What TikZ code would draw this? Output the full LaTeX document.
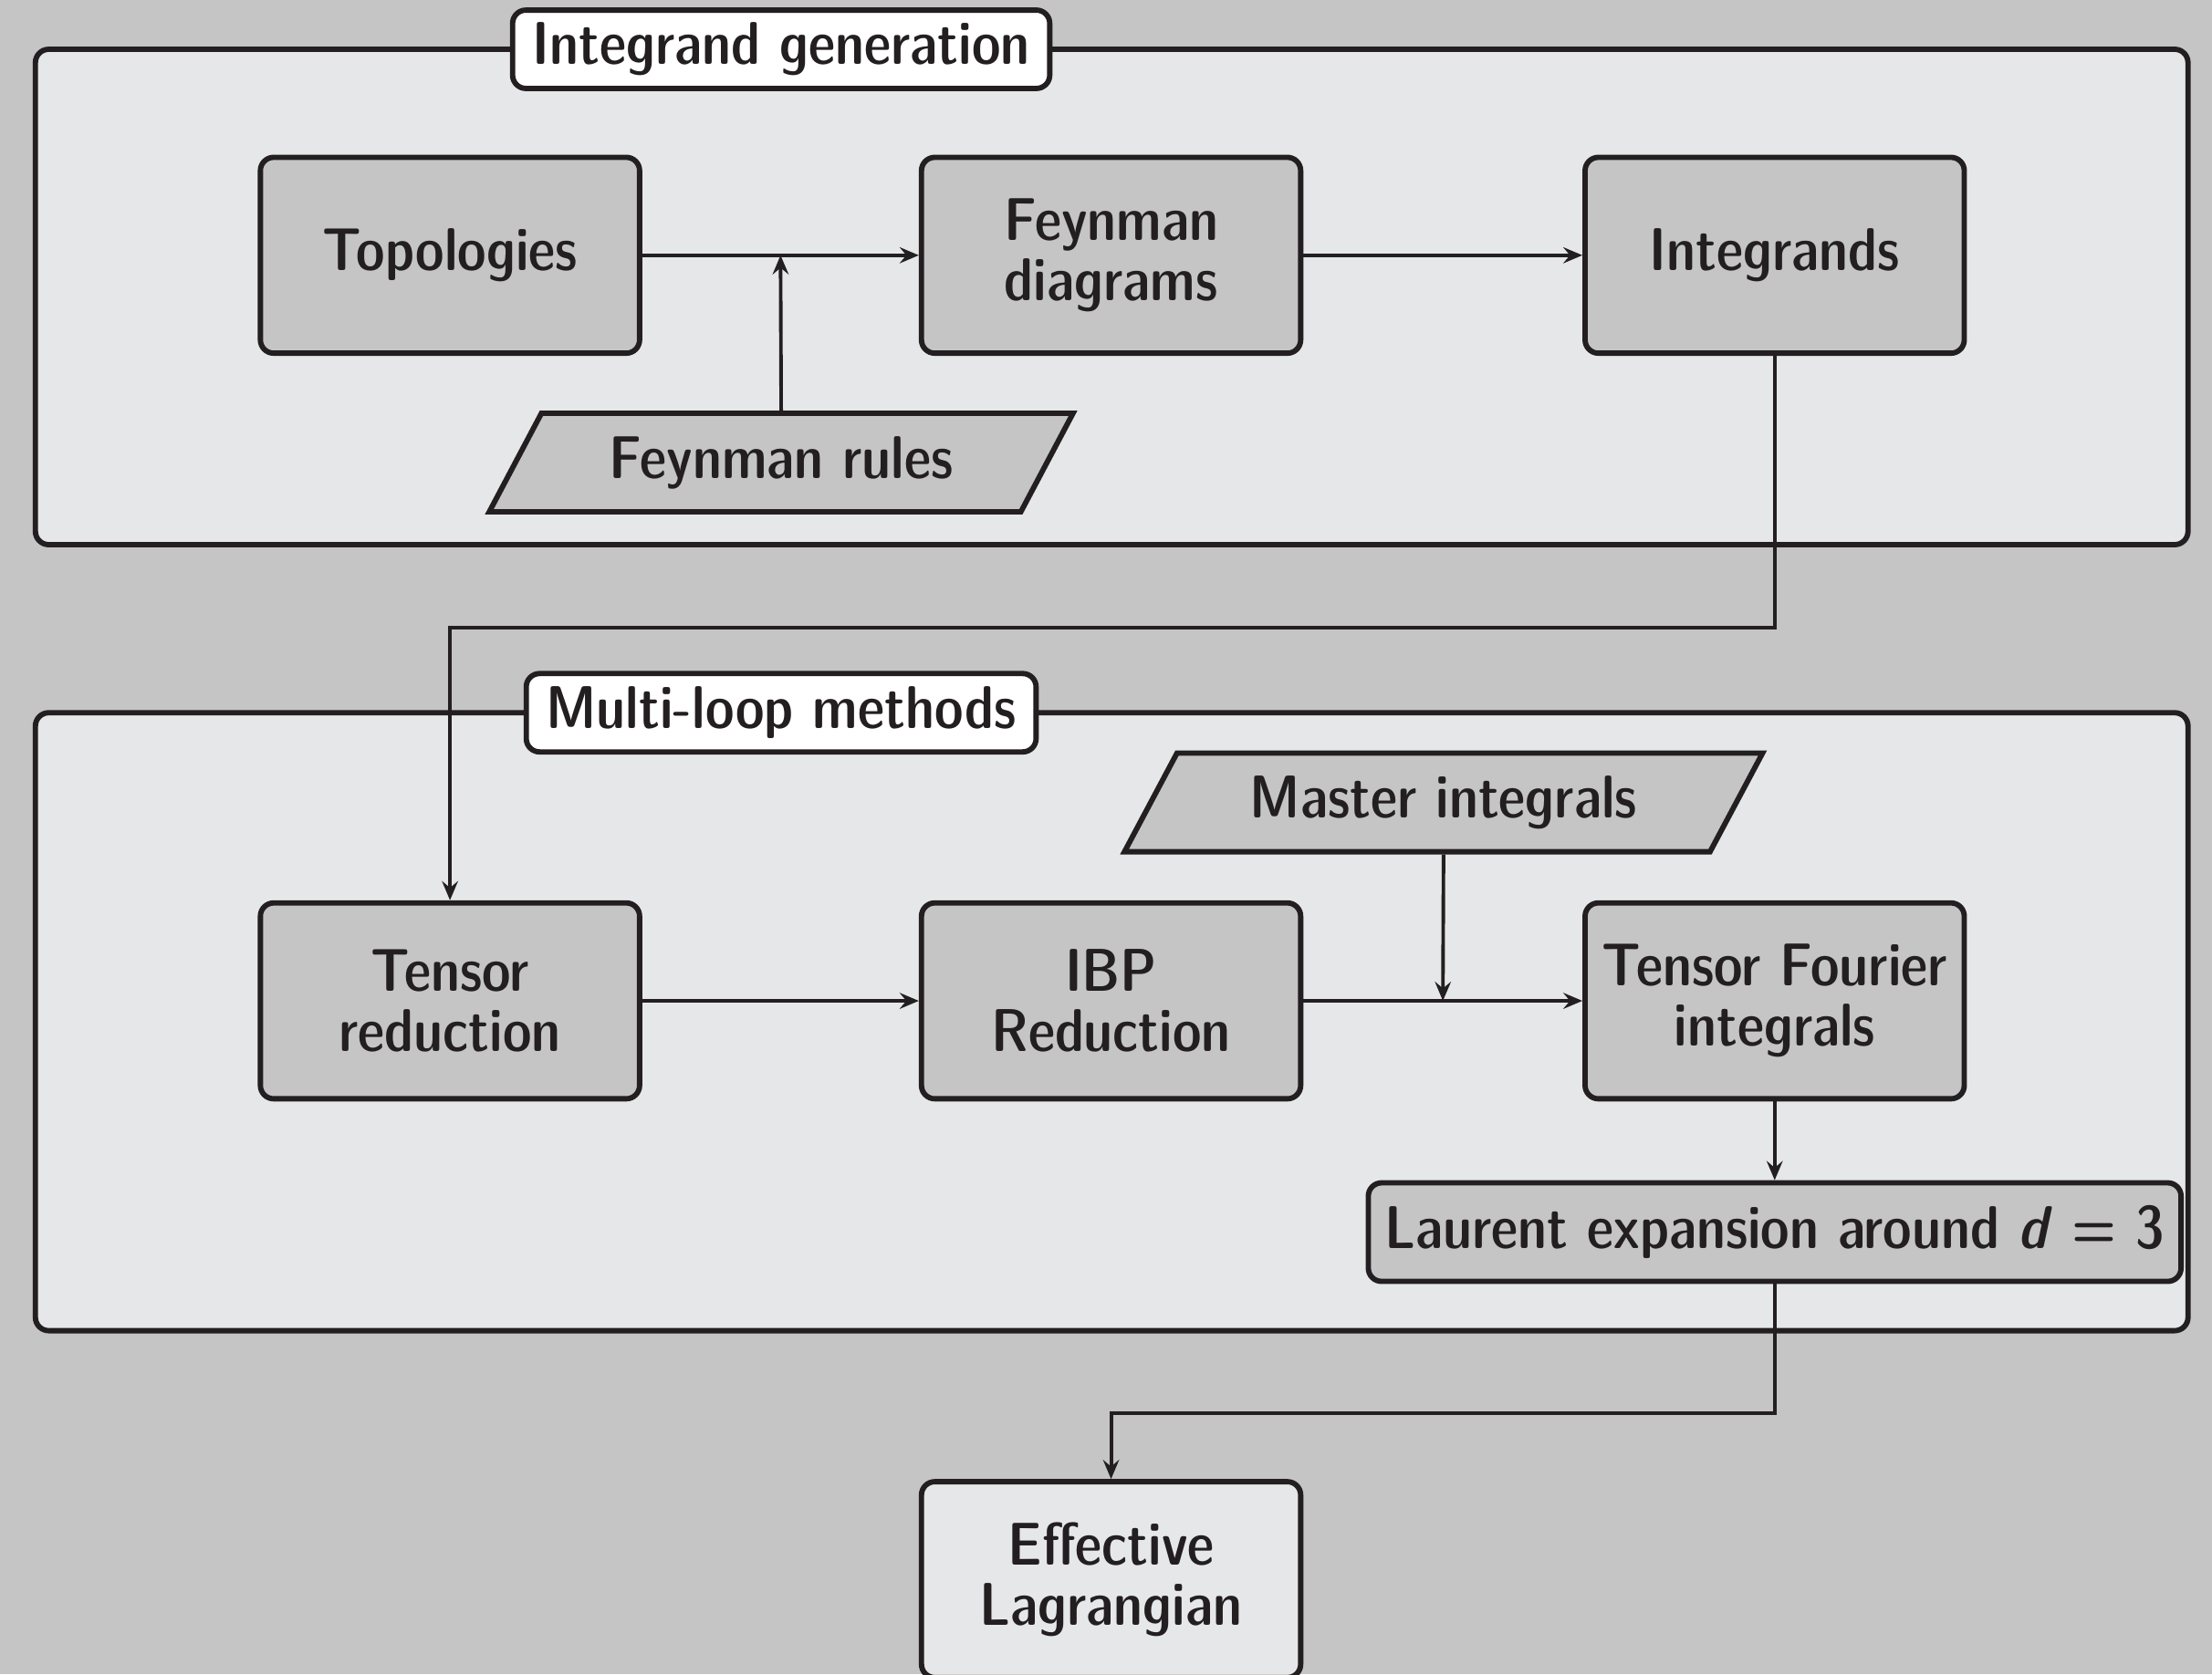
\documentclass[tikz,border=0pt]{standalone}
\usetikzlibrary{shapes.geometric,arrows.meta}

\definecolor{bggray}{RGB}{196,197,196}
\definecolor{panelgray}{RGB}{230,231,232}
\definecolor{inkdark}{RGB}{35,31,32}

\newcommand{\boxfont}{\fontsize{13.6}{13.6}\sffamily\fontseries{sbc}\selectfont}

\tikzset{
  stage/.style={draw=inkdark, line width=1.2pt, rounded corners=3pt, fill=bggray,
    text=inkdark, align=center, minimum width=3cm, minimum height=1.55cm, font=\boxfont},
  inputbox/.style={trapezium, trapezium left angle=60, trapezium right angle=120,
    trapezium stretches=true, draw=inkdark, line width=1.2pt, fill=bggray,
    text=inkdark, inner ysep=2pt, minimum height=0.78cm, font=\boxfont},
  panel/.style={draw=inkdark, line width=1.2pt, rounded corners=3pt, fill=panelgray},
  paneltitle/.style={draw=inkdark, line width=1.2pt, rounded corners=3pt, fill=white,
    text=inkdark, inner xsep=4.5pt, inner ysep=2pt, minimum height=0.62cm, font=\boxfont},
  flow/.style={draw=inkdark, line width=0.8pt, -{Stealth[length=4.3pt, width=3.6pt, inset=1.5pt]}}
}

\begin{document}
\begin{tikzpicture}
  \useasboundingbox (0,0) rectangle (17.5,-13.25);
  \fill[bggray] (0,0) rectangle (17.5,-13.25);

  % integrand generation
  \draw[panel] (0.28,-0.39) rectangle (17.31,-4.31);
  \node[paneltitle] (gentitle) at (6.18,-0.39) {Integrand generation};

  \node[stage] (topo) at (3.56,-2.02) {Topologies};
  \node[stage] (feyndiag) at (8.79,-2.02) {Feynman\\diagrams};
  \node[stage] (integr) at (14.04,-2.02) {Integrands};
  \node[inputbox, minimum width=4.62cm] (feynrules) at (6.18,-3.66) {Feynman rules};

  \draw[flow] (topo) -- (feyndiag) coordinate[midway] (join1);
  \draw[flow] (feynrules.north) -- (join1);
  \draw[flow] (feyndiag) -- (integr);

  % multi-loop methods
  \draw[panel] (0.28,-5.64) rectangle (17.31,-10.53);
  \node[paneltitle] (looptitle) at (6.18,-5.64) {Multi-loop methods};

  \node[inputbox, minimum width=5.05cm] (master) at (11.42,-6.35) {Master integrals};
  \node[stage] (tensred) at (3.56,-7.92) {Tensor\\reduction};
  \node[stage] (ibp) at (8.79,-7.92) {IBP\\Reduction};
  \node[stage] (fourier) at (14.04,-7.92) {Tensor Fourier\\integrals};
  \node[stage, inner ysep=2pt, minimum width=6.43cm, minimum height=0.78cm] (laurent) at (14.04,-9.75)
    {Laurent expansion around \textsl{d} = 3};

  \coordinate (hop1) at (8.79,-4.97);
  \draw[flow] (integr.south) |- (hop1) -| (tensred.north);

  \draw[flow] (tensred) -- (ibp);
  \draw[flow] (ibp) -- (fourier) coordinate[midway] (join2);
  \draw[flow] (master.south) -- (join2);
  \draw[flow] (fourier) -- (laurent);

  % result
  \node[stage, fill=panelgray] (efflag) at (8.79,-12.5) {Effective\\Lagrangian};
  \coordinate (hop2) at (11.4,-11.18);
  \draw[flow] (laurent.south) |- (hop2) -| (efflag.north);
\end{tikzpicture}
\end{document}
